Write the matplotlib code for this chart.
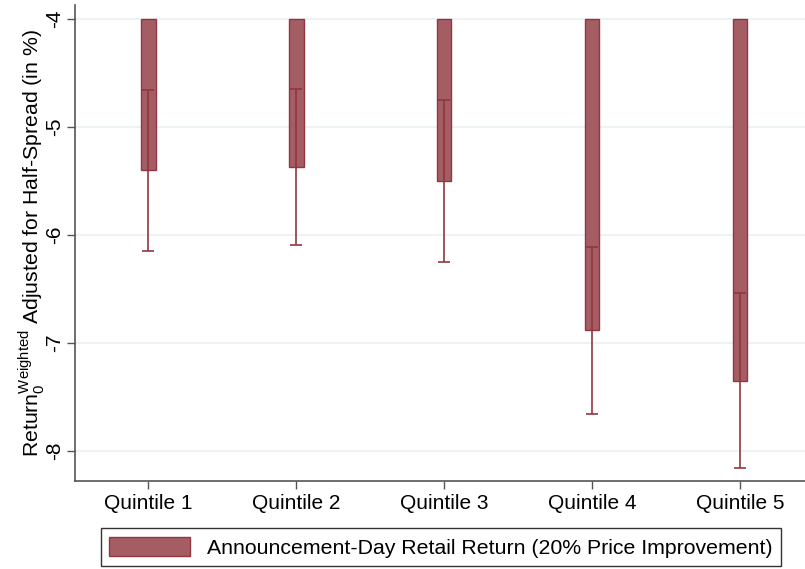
import numpy as np
import matplotlib.pyplot as plt

plt.rcParams['font.family'] = ['Liberation Sans', 'DejaVu Sans']
plt.rcParams['mathtext.fontset'] = 'custom'
plt.rcParams['mathtext.rm'] = 'Liberation Sans'
plt.rcParams['mathtext.it'] = 'Liberation Sans:italic'

# data
quintiles = ['Quintile 1', 'Quintile 2', 'Quintile 3', 'Quintile 4', 'Quintile 5']
mean_return = [-5.40, -5.37, -5.50, -6.88, -7.35]
ci_upper = [-4.66, -4.65, -4.75, -6.11, -6.54]
ci_lower = [-6.15, -6.09, -6.25, -7.66, -8.16]
yticks = [-4, -5, -6, -7, -8]
base = -4

fill_color = '#a55d64'
edge_color = '#913640'

x = np.arange(1, len(quintiles) + 1)
mean_return = np.array(mean_return)
err = [np.array(mean_return) - np.array(ci_lower), np.array(ci_upper) - mean_return]

fig = plt.figure(figsize=(8.05, 5.69), dpi=100)
ax = fig.add_axes([0.0932, 0.1547, 0.9068, 0.8363])

ax.bar(x, mean_return - base, bottom=base, width=0.1, color=fill_color,
       edgecolor=edge_color, linewidth=1.0, zorder=2,
       label='Announcement-Day Retail Return (20% Price Improvement)')
ax.errorbar(x, mean_return, yerr=err, fmt='none', ecolor=edge_color,
            elinewidth=1.2, capsize=4, capthick=1.2, zorder=3)

ax.set_ylim(-8.28, -3.87)
ax.set_xlim(0.505, 5.44)
ax.set_yticks(yticks)
ax.set_yticklabels([str(v) for v in yticks], rotation=90, va='center')
ax.set_xticks(x)
ax.set_xticklabels(quintiles)
ax.tick_params(axis='both', labelsize=15, length=6, width=1.0, color='#555555')
ax.tick_params(axis='y', pad=1.5)
ax.grid(axis='y', color='#eaf0f2', linewidth=1.2, zorder=0)
ax.set_axisbelow(True)

for side in ['top', 'right']:
    ax.spines[side].set_visible(False)
for side in ['left', 'bottom']:
    ax.spines[side].set_color('#555555')
    ax.spines[side].set_linewidth(1.2)

ax.set_ylabel(r'Return$_{\mathit{0}}^{\mathrm{Weighted}}$ Adjusted for Half-Spread (in %)',
              fontsize=15.3, labelpad=-1)

leg = fig.legend(loc='center', bbox_to_anchor=(0.548, 0.038), fontsize=15.3,
                 frameon=True, fancybox=False, edgecolor='black',
                 handlelength=3.8, handleheight=1.0, borderpad=0.4)
leg.get_frame().set_linewidth(1.0)

fig.savefig('out.png', dpi=100)
